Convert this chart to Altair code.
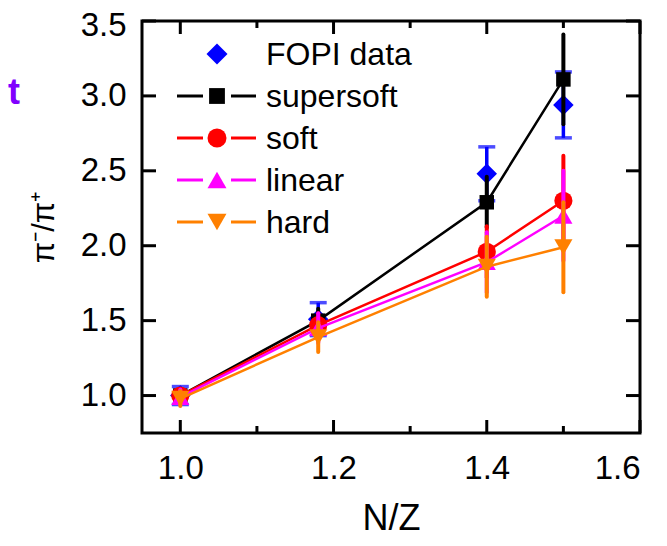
import altair as alt
import pandas as pd

# ---------------- data ----------------
nz = [1.0, 1.18, 1.4, 1.5]

fopi_y = [1.0, 1.51, 2.48, 2.94]
fopi_err = [0.06, 0.11, 0.18, 0.22]

series = ["supersoft", "soft", "linear", "hard"]
colors = ["#000000", "#ff0000", "#ff00ff", "#ff8000"]
shapes = ["square", "circle", "triangle-up", "triangle-down"]
sizes = [210, 330, 330, 330]

supersoft_y = [1.0, 1.50, 2.29, 3.11]
soft_y = [1.0, 1.47, 1.96, 2.30]
linear_y = [0.99, 1.45, 1.89, 2.20]
hard_y = [0.98, 1.39, 1.86, 1.99]

supersoft_err = [0.04, 0.08, 0.17, 0.30]
soft_err = [0.04, 0.08, 0.17, 0.30]
linear_err = [0.05, 0.10, 0.20, 0.30]
hard_err = [0.05, 0.10, 0.20, 0.30]

x_major = [1.0, 1.2, 1.4, 1.6]
x_minor = [1.1, 1.3, 1.5]
y_major = [1.0, 1.5, 2.0, 2.5, 3.0, 3.5]

legend_labels = ["FOPI data"] + series

# ---------------- layout ----------------
W, H = 498, 412
FONT = "Liberation Sans"

xscale = alt.Scale(domain=[0.95, 1.6], nice=False, zero=False)
yscale = alt.Scale(domain=[0.75, 3.5], nice=False, zero=False)

x_axis = alt.Axis(values=x_major, format=".1f", ticks=False, domain=False, grid=False,
                  labelFont=FONT, labelFontSize=33, labelColor="black", labelPadding=19,
                  title="N/Z", titleFont=FONT, titleFontSize=36, titleFontWeight="normal",
                  titleColor="black", titlePadding=16)
y_axis = alt.Axis(values=y_major, format=".1f", ticks=False, domain=False, grid=False,
                  labelFont=FONT, labelFontSize=33, labelColor="black", labelPadding=16,
                  labelOffset=alt.condition("datum.value >= 3.5", alt.value(4), alt.value(0)),
                  title="π⁻/π⁺", titleFont=FONT, titleFontSize=31, titleFontWeight="normal",
                  titleColor="black", titlePadding=20)


def X(f):
    return alt.X(f, type="quantitative", scale=xscale, axis=x_axis)


def Y(f):
    return alt.Y(f, type="quantitative", scale=yscale, axis=y_axis)


layers = []

# FOPI data
fopi = pd.DataFrame({"nz": nz, "y": fopi_y, "err": fopi_err})
fopi["lo"] = fopi["y"] - fopi["err"]
fopi["hi"] = fopi["y"] + fopi["err"]
layers.append(alt.Chart(fopi).mark_rule(color="#0000ff", strokeWidth=3.5).encode(
    x=X("nz"), y=Y("lo"), y2="hi:Q"))
for col in ["lo", "hi"]:
    layers.append(alt.Chart(fopi).mark_tick(color="#0000ff", thickness=3.5, size=17,
                                            orient="horizontal").encode(
        x=X("nz"), y=Y(col)))
layers.append(alt.Chart(fopi).mark_point(shape="diamond", filled=True, color="#0000ff",
                                         size=420, opacity=1).encode(
    x=X("nz"), y=Y("y")))

model_y = [supersoft_y, soft_y, linear_y, hard_y]
model_err = [supersoft_err, soft_err, linear_err, hard_err]
for name, col, shp, sz, ys, es in zip(series, colors, shapes, sizes, model_y, model_err):
    df = pd.DataFrame({"nz": nz, "y": ys, "err": es})
    df["lo"] = df["y"] - df["err"]
    df["hi"] = df["y"] + df["err"]
    layers.append(alt.Chart(df).mark_line(color=col, strokeWidth=2.5).encode(
        x=X("nz"), y=Y("y")))
    layers.append(alt.Chart(df).mark_rule(color=col, strokeWidth=4, strokeCap="round").encode(
        x=X("nz"), y=Y("lo"), y2="hi:Q"))
    layers.append(alt.Chart(df).mark_point(shape=shp, filled=True, color=col, size=sz,
                                           opacity=1).encode(
        x=X("nz"), y=Y("y")))

# inward ticks
xmaj = pd.DataFrame({"v": x_major})
xmin = pd.DataFrame({"v": x_minor})
ymaj = pd.DataFrame({"v": y_major})
for d, ln in [(xmaj, 13), (xmin, 7)]:
    layers.append(alt.Chart(d).mark_rule(color="black", strokeWidth=3).encode(
        x=X("v"), y=alt.value(H), y2=alt.value(H - ln)))
    layers.append(alt.Chart(d).mark_rule(color="black", strokeWidth=3).encode(
        x=X("v"), y=alt.value(0), y2=alt.value(ln)))
layers.append(alt.Chart(ymaj).mark_rule(color="black", strokeWidth=3).encode(
    y=Y("v"), x=alt.value(0), x2=alt.value(14)))
layers.append(alt.Chart(ymaj).mark_rule(color="black", strokeWidth=3).encode(
    y=Y("v"), x=alt.value(W), x2=alt.value(W - 14)))

# legend (pixel layout inside the plot area)
leg_colors = ["#0000ff"] + colors
leg_shapes = ["diamond"] + shapes
leg_sizes = [440] + [250, 360, 360, 360]
one = pd.DataFrame({"k": [0]})
for i, (lab, col, shp, sz) in enumerate(zip(legend_labels, leg_colors, leg_shapes, leg_sizes)):
    py = 33 + 42 * i
    if i > 0:
        for a, b in [(35, 61), (89, 114)]:
            layers.append(alt.Chart(one).mark_rule(color=col, strokeWidth=3).encode(
                x=alt.value(a), x2=alt.value(b), y=alt.value(py)))
    layers.append(alt.Chart(one).mark_point(shape=shp, filled=True, color=col, size=sz,
                                            opacity=1).encode(
        x=alt.value(75), y=alt.value(py)))
    layers.append(alt.Chart(one).mark_text(align="left", baseline="middle", font=FONT,
                                           fontSize=32, color="black", dy=1,
                                           text=lab).encode(
        x=alt.value(124), y=alt.value(py)))

# fragment of neighbouring text at left edge
layers.append(alt.Chart(one).mark_text(align="left", baseline="alphabetic", font=FONT,
                                       fontSize=36, fontWeight="bold", color="#8000ff",
                                       text="t").encode(
    x=alt.value(-134), y=alt.value(83)))

chart = alt.layer(*layers).properties(
    width=W, height=H,
    autosize=alt.AutoSizeParams(type="none"),
    padding={"left": 134, "top": 13, "right": 19, "bottom": 113},
    background="white",
).configure_view(stroke="black", strokeWidth=3)

chart.save("out.html", embed_options={"renderer": "svg", "actions": False})
